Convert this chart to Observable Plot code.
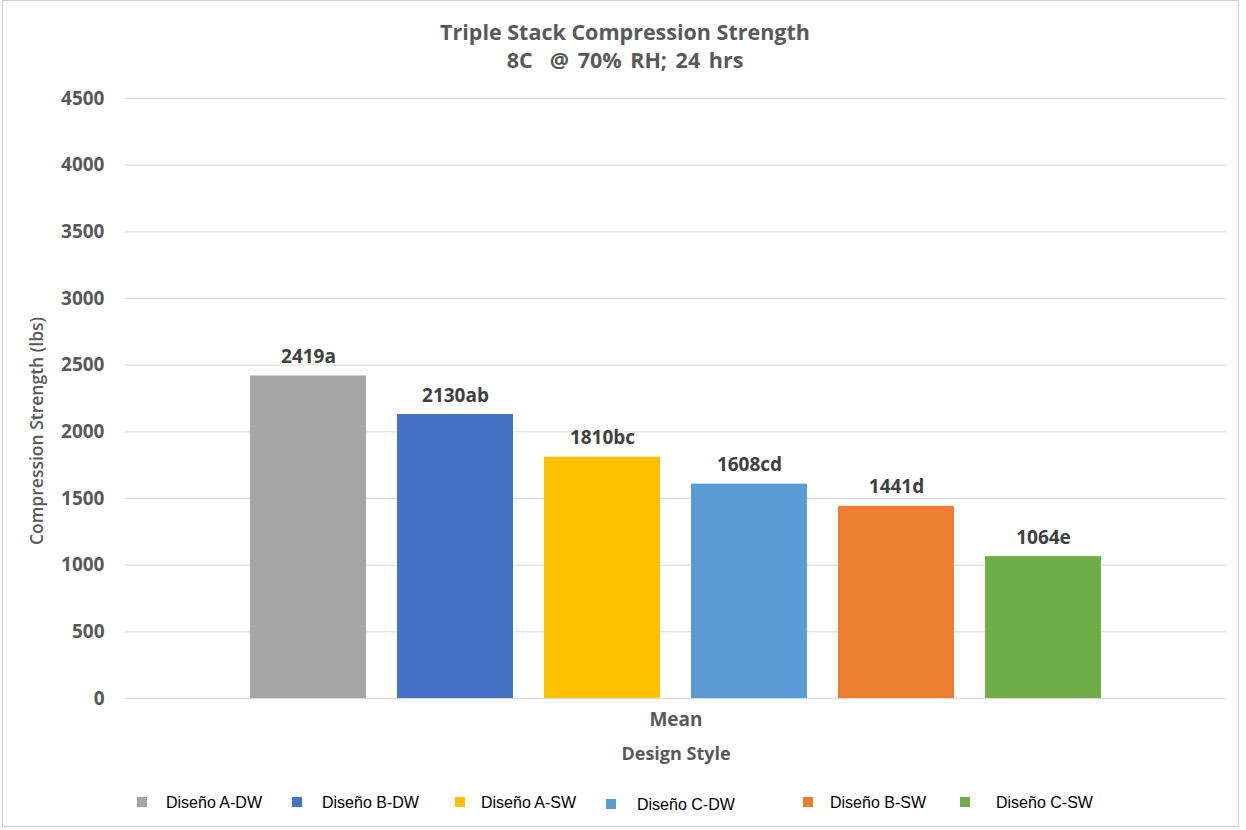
<!DOCTYPE html>
<html>
<head>
<meta charset="utf-8">
<script src="https://cdn.jsdelivr.net/npm/d3@7"></script>
<script src="https://cdn.jsdelivr.net/npm/@observablehq/plot@0.6"></script>
<style>
  html, body { margin: 0; padding: 0; background: #fff; }
  body { position: relative; width: 1246px; height: 830px; overflow: hidden; }
  #frame { position: absolute; left: 2px; top: 0px; width: 1237px; height: 827px; border: 1px solid #d0d0d0; box-sizing: border-box; pointer-events: none; }
  #title { position: absolute; left: 0; top: 18px; width: 1250px; text-align: center; font-family: "Open Sans", sans-serif; font-weight: bold; font-size: 21.5px; line-height: 28px; color: #595959; }
  #title .l2 { word-spacing: 3px; }
  #ylabel { position: absolute; left: 36px; top: 431px; transform: translate(-50%, -50%) rotate(-90deg); white-space: nowrap; font-family: "Open Sans", sans-serif; font-weight: 600; font-size: 17.5px; color: #595959; }
  #chart { position: absolute; left: 0; top: 0; }
  #legend { position: absolute; left: 0; top: 0; width: 1246px; height: 830px; pointer-events: none; font-family: "Liberation Sans", Arial, sans-serif; font-size: 16px; color: #000; }
  .sw { position: absolute; width: 10px; height: 10px; }
  .lt { position: absolute; white-space: nowrap; line-height: 18px; }
  svg g[aria-label="fx-axis label"] text { font-size: 18px; }
  svg g[aria-label="fx-axis tick label"] text { font-size: 19px; }
  svg g[aria-label="y-axis tick label"] text { font-size: 19px; }
</style>
</head>
<body>
<div id="chart"></div>
<div id="title">Triple Stack Compression Strength<br><span class="l2">8C&nbsp; @ 70% RH; 24 hrs</span></div>
<div id="ylabel">Compression Strength (lbs)</div>
<div id="legend"></div>
<div id="frame"></div>
<script>
const designs = ["Diseño A-DW", "Diseño B-DW", "Diseño A-SW", "Diseño C-DW", "Diseño B-SW", "Diseño C-SW"];
const values = [2419, 2130, 1810, 1608, 1441, 1064];
const letters = ["a", "ab", "bc", "cd", "d", "e"];
const colors = ["#A5A5A5", "#4472C4", "#FFC000", "#5B9BD5", "#ED7D31", "#70AD47"];
const groupLabel = "Mean";
const yTicks = [0, 500, 1000, 1500, 2000, 2500, 3000, 3500, 4000, 4500];

const data = designs.map((d, i) => ({group: groupLabel, design: d, value: values[i], label: values[i] + letters[i]}));

const chart = Plot.plot({
  width: 1246,
  height: 780,
  marginLeft: 125,
  marginRight: 20,
  marginTop: 98,
  marginBottom: 82,
  style: {fontFamily: "Open Sans, sans-serif", fontSize: "18px", fontWeight: "bold", color: "#595959", background: "transparent"},
  fx: {domain: [groupLabel], padding: 0, label: "Design Style", labelAnchor: "center", tickSize: 0, tickPadding: 14, labelOffset: 61, labelArrow: "none"},
  x: {domain: designs, axis: null, paddingInner: 0.21, paddingOuter: 0.84},
  y: {domain: [0, 4500], ticks: yTicks, tickFormat: "d", tickSize: 0, tickPadding: 21, label: null},
  color: {domain: designs, range: colors},
  marks: [
    Plot.gridY(yTicks, {stroke: "#d9d9d9", strokeOpacity: 1}),
    Plot.barY(data, {fx: "group", x: "design", y: "value", fill: "design"}),
    Plot.text(data, {fx: "group", x: "design", y: "value", text: "label", dy: -19, fill: "#404040", fontSize: 19, fontWeight: "bold"})
  ]
});
document.getElementById("chart").appendChild(chart);

// legend (HTML)
const legendSwatchX = [137, 292, 455, 606, 803, 960];
const legendTextX = [166, 322, 481, 637, 830, 996];
const legendY = [803, 803, 803, 805, 803, 803];
const legend = document.getElementById("legend");
designs.forEach((d, i) => {
  const s = document.createElement("div");
  s.className = "sw";
  s.style.left = legendSwatchX[i] + "px";
  s.style.top = (legendY[i] - 6) + "px";
  s.style.background = colors[i];
  legend.appendChild(s);
  const t = document.createElement("div");
  t.className = "lt";
  t.style.left = legendTextX[i] + "px";
  t.style.top = (legendY[i] - 9) + "px";
  t.textContent = d;
  legend.appendChild(t);
});
</script>
</body>
</html>
